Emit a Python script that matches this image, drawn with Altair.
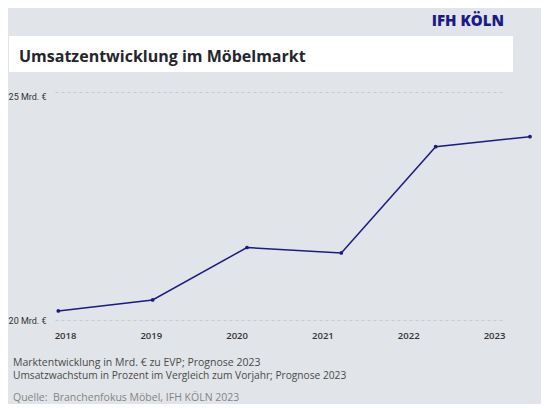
import altair as alt
import pandas as pd

years = [2018, 2019, 2020, 2021, 2022, 2023]
umsatz = [20.2, 20.44, 21.59, 21.47, 23.8, 24.02]
y_ticks = [20, 25]

title_text = "Umsatzentwicklung im Möbelmarkt"
logo_text = "IFH KÖLN"
note1 = "Marktentwicklung in Mrd. € zu EVP; Prognose 2023"
note2 = "Umsatzwachstum in Prozent im Vergleich zum Vorjahr; Prognose 2023"
source = "Quelle:\u00a0\u00a0Branchenfokus Möbel, IFH KÖLN 2023"

df = pd.DataFrame({"Jahr": years, "Umsatz": umsatz})

BG = "#e1e4e8"
NAVY = "#1b1b86"

yenc = alt.Y(
    "Umsatz:Q",
    scale=alt.Scale(domain=[20, 25], nice=False, zero=False),
    axis=alt.Axis(
        values=y_ticks,
        title=None,
        labelExpr="datum.value + ' Mrd. €'",
        labelFont="Roboto",
        labelFontSize=9,
        labelColor="#333333",
        labelPadding=9,
        labelOffset={"condition": {"test": "datum.value >= 25", "value": 4}, "value": 0},
        ticks=False,
        domain=False,
        grid=True,
        gridColor="#c6c9ce",
        gridDash=[3, 3],
        gridWidth=1,
    ),
)

line = alt.Chart(df).mark_line(
    color=NAVY, strokeWidth=1.5, clip=False,
    point=alt.OverlayMarkDef(filled=True, size=14, color=NAVY),
).encode(
    x=alt.X("Jahr:Q", scale=alt.Scale(domain=[2017.965, 2022.714], nice=False, zero=False), axis=None),
    y=yenc,
)

labels = alt.Chart(df).mark_point(opacity=0).encode(
    x=alt.X(
        "Jahr:Q",
        scale=alt.Scale(domain=[2017.8834, 2023.105], nice=False, zero=False),
        axis=alt.Axis(
            values=years, format="d", title=None, ticks=False, domain=False, grid=False,
            labelFont="Open Sans", labelFontSize=9.5, labelFontWeight=600,
            labelColor="#333333", labelPadding=10,
        ),
    ),
    y=alt.Y("Umsatz:Q"),
)

box = alt.Chart(pd.DataFrame({"a": [0]})).mark_rect(color="white").encode(
    x=alt.value(-46), x2=alt.value(458), y=alt.value(-56), y2=alt.value(-20)
)

def txt(s, x, y, size, color, weight="normal", align="left", font="Open Sans"):
    return alt.Chart(pd.DataFrame({"t": [s]})).mark_text(
        align=align, baseline="alphabetic", fontSize=size, fontWeight=weight,
        color=color, font=font,
    ).encode(text="t:N", x=alt.value(x), y=alt.value(y))

title = txt(title_text, -36, -30, 16, "#25252d", weight="bold")
logo = txt(logo_text, 449, -66, 15, NAVY, weight=800, align="right")
n1 = txt(note1, -42, 273.5, 10.5, "#4a4a4a")
n2 = txt(note2, -42, 286.5, 10.2, "#4a4a4a")
src = txt(source, -42, 308.5, 10.5, "#858585")

chart = alt.layer(box, line, labels, title, logo, n1, n2, src).resolve_scale(
    x="independent"
).properties(
    width=448, height=228,
    background=BG,
    padding={"left": 47, "top": 84, "right": 38, "bottom": 84},
    autosize=alt.AutoSizeParams(type="none"),
).configure_view(stroke=None)

chart.save("out.html", embed_options={"renderer": "svg", "actions": False})
